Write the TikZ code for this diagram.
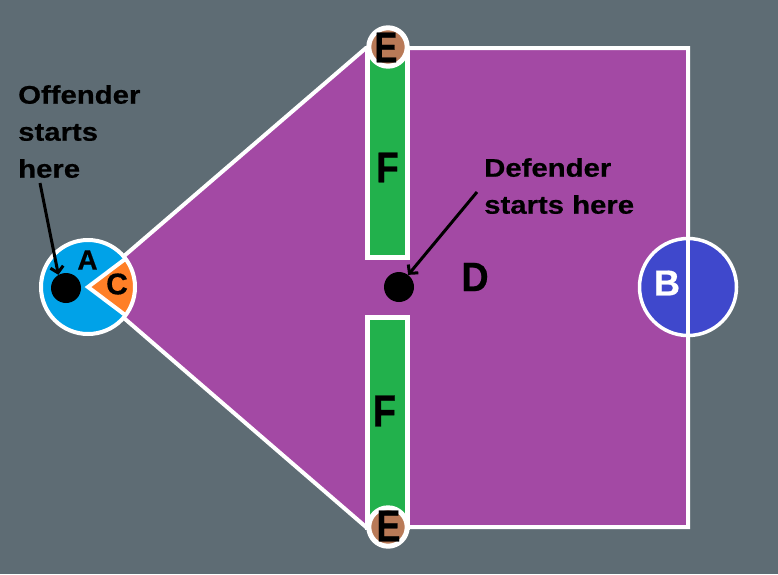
\documentclass[tikz,border=0pt]{standalone}
\usepackage{fontspec}
\setmainfont{Liberation Sans}
\newfontfamily\widefont{Liberation Sans Bold}[FakeStretch=1.15, FakeBold=0.6]
\newfontfamily\heavyfont{Liberation Sans Bold}[FakeBold=0.6]
\usetikzlibrary{arrows.meta,calc}
\definecolor{bggray}{RGB}{94,108,116}
\definecolor{fieldpurple}{RGB}{163,73,164}
\definecolor{wallgreen}{RGB}{34,177,76}
\definecolor{zoneblue}{RGB}{0,162,232}
\definecolor{wedgeorange}{RGB}{255,127,39}
\definecolor{postbrown}{RGB}{185,122,87}
\definecolor{goalblue}{RGB}{63,72,204}
\tikzset{
  edge/.style={draw=white, line width=4pt},
  wall/.style={rectangle, fill=wallgreen, draw=white, line width=5pt, minimum width=40pt, inner sep=0pt},
  post/.style={circle, fill=postbrown, draw=white, line width=5pt, minimum size=38.4pt, inner sep=0pt},
  dot/.style={circle, fill=black, minimum size=30pt, inner sep=0pt},
  lbl/.style={inner sep=0pt, text=black},
  note/.style={inner sep=0pt, anchor=north west, align=left, font=\widefont\fontsize{25.5}{37}\selectfont},
  pointer/.style={line width=3pt, -{Straight Barb[length=6pt, width=13pt]}}
}
\begin{document}
\begin{tikzpicture}[x=1pt, y=-1pt]
\useasboundingbox (0,0) rectangle (778,574);
\fill[bggray] (0,0) rectangle (778,574);
% field corners
\coordinate (apex) at (88,287);
\coordinate (tl) at (366,48);
\coordinate (rtop) at (688,48);
\coordinate (rbot) at (688,527);
\coordinate (bl) at (366,527);
\fill[fieldpurple] (apex) -- (tl) -- (rtop) -- (rbot) -- (bl) -- cycle;
\draw[edge, line join=miter] (apex) -- (tl) -- (rtop) -- (rbot) -- (bl) -- cycle;
% walls
\node[wall, minimum height=209.5pt] (walltop) at (387.5,152.75) {};
\node[wall, minimum height=209.5pt] (wallbot) at (387.5,422.25) {};
% posts
\node[post] (etop) at (388,47) {};
\node[post] (ebot) at (388,527) {};
% zone A
\node[circle, fill=zoneblue, minimum size=94pt, inner sep=0pt] (azone) at (apex) {};
\coordinate (wup) at ($(apex)+(37:47)$);
\coordinate (wdown) at ($(apex)+(-37:47)$);
\fill[wedgeorange] (apex) -- (wup) arc[start angle=37, end angle=-37, radius=47] -- cycle;
\draw[edge] (wup) -- (apex) -- (wdown);
\draw[edge] (apex) circle[radius=47];
% goal B
\node[circle, fill=goalblue, draw=white, line width=3.5pt, minimum size=97pt, inner sep=0pt] (bgoal) at (688,287) {};
\draw[edge] (rtop) -- (rbot);
% players
\node[dot] (offdot) at (66,288) {};
\node[dot] (defdot) at (399,287) {};
% labels
\node[lbl, font=\heavyfont\fontsize{28}{28}\selectfont] (alabel) at (87.5,260) {A};
\node[lbl, font=\heavyfont\fontsize{30}{30}\selectfont] (clabel) at (117,284) {C};
\node[lbl, text=white, font=\heavyfont\fontsize{36}{36}\selectfont] (blabel) at (667,283) {B};
\node[lbl, font=\heavyfont\fontsize{41}{41}\selectfont] (dlabel) at (475,277) {\scalebox{0.92}[1]{D}};
\node[lbl, font=\heavyfont\fontsize{43}{43}\selectfont] (ftop) at (387.5,167.5) {\scalebox{0.86}[1]{F}};
\node[lbl, font=\heavyfont\fontsize{45}{45}\selectfont] (fbot) at (384.5,411) {\scalebox{0.84}[1]{F}};
\node[lbl, font=\heavyfont\fontsize{43}{43}\selectfont] (etoplabel) at (386,47.5) {\scalebox{0.8}[1]{E}};
\node[lbl, font=\heavyfont\fontsize{45}{45}\selectfont] (ebotlabel) at (388.5,526) {\scalebox{0.8}[1]{E}};
% notes
\node[note] (offnote) at (18,85) {Offender\\starts\\here};
\node[note] (defnote) at (484,158) {Defender\\starts here};
% pointers
\coordinate (offstart) at (40,183);
\coordinate (defstart) at (477,192);
\draw[pointer] (offstart) -- (offdot.120);
\draw[pointer] (defstart) -- (defdot.53);
\end{tikzpicture}
\end{document}
